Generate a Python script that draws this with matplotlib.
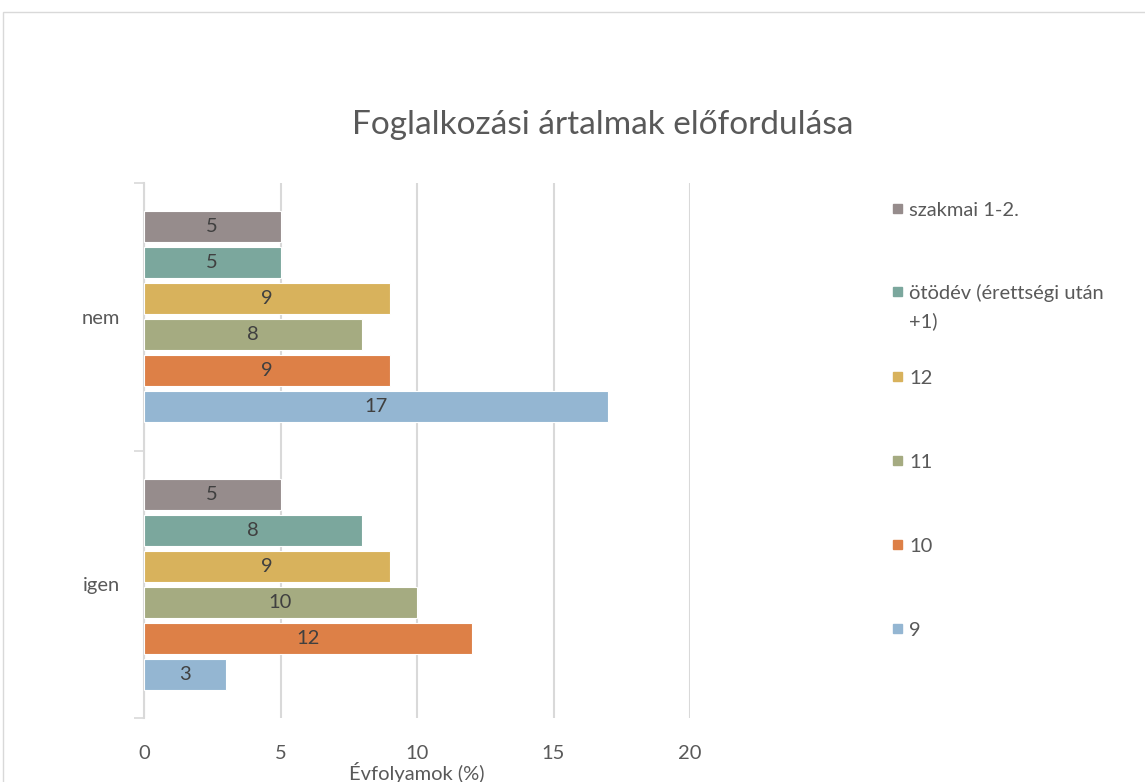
import numpy as np
import matplotlib.pyplot as plt
from matplotlib.patches import Rectangle

categories = ['igen', 'nem']
series = ['9', '10', '11', '12', 'ötödév (érettségi után\n+1)', 'szakmai 1-2.']
values_9 = [3, 17]
values_10 = [12, 9]
values_11 = [10, 8]
values_12 = [9, 9]
values_otodev = [8, 5]
values_szakmai = [5, 5]
colors = ['#94B6D2', '#DD8047', '#A5AB81', '#D8B25C', '#7BA79D', '#968C8C']

all_values = [values_9, values_10, values_11, values_12, values_otodev, values_szakmai]

plt.rcParams['font.family'] = ['Lato', 'DejaVu Sans']
text_col = '#595959'
grid_col = '#D9D9D9'

fig = plt.figure(figsize=(11.45, 7.82), dpi=100)
ax = fig.add_axes([144 / 1145, 64 / 782, 546 / 1145, 535 / 782])

ind = np.arange(len(categories))
pitch = 0.1346
height = 0.116
for i, vals in enumerate(all_values):
	bars = ax.barh(ind + (i - 2.5) * pitch, vals, height, color=colors[i],
	               edgecolor='white', linewidth=0.8, zorder=3)
	ax.bar_label(bars, label_type='center', color='#404040', fontsize=14.5)

ax.set_xlim(0, 20)
ax.set_ylim(-0.5, 1.5)
ax.set_xticks([0, 5, 10, 15, 20])
ax.tick_params(axis='x', length=0, pad=19.5, labelsize=14.5, labelcolor=text_col)
ax.xaxis.grid(True, color=grid_col, linewidth=1.5, zorder=0)
ax.set_xlabel('Évfolyamok (%)', fontsize=14.5, color=text_col)
ax.xaxis.set_label_coords(0.5, -(762 - 718) / 535)

ax.set_yticks(ind)
ax.set_yticklabels(categories)
ax.set_yticks([-0.5, 0.5, 1.5], minor=True)
ax.tick_params(axis='y', which='major', length=0, pad=17, labelsize=14.5, labelcolor=text_col)
ax.tick_params(axis='y', which='minor', length=7, width=1.2, color=grid_col)

for s in ['top', 'right', 'bottom']:
	ax.spines[s].set_visible(False)
ax.spines['left'].set_color(grid_col)
ax.spines['left'].set_linewidth(1.5)
ax.set_axisbelow(True)

fig.text(603 / 1145, 1 - 125 / 782, 'Foglalkozási ártalmak előfordulása',
         ha='center', va='center', fontsize=24, color=text_col)

# legend drawn by hand, top entry first like Excel
leg_y = [208.5, 292, 376, 460, 544, 628]
order = list(range(len(series)))[::-1]
line_gap = 27
for y, i in zip(leg_y, order):
	fig.add_artist(Rectangle((893 / 1145, 1 - (y + 4.5) / 782), 9 / 1145, 9 / 782,
	                         transform=fig.transFigure, color=colors[i]))
	# baseline alignment uses the last line, so push multi-line labels down
	extra = series[i].count('\n') * line_gap
	fig.text(909 / 1145, 1 - (y + 8 + extra) / 782, series[i], ha='left', va='baseline',
	         fontsize=14.5, color=text_col, linespacing=1.7)

# chart frame
fig.add_artist(Rectangle((3 / 1145, -0.05), 1.1, 1 - 12 / 782 + 0.05,
                         transform=fig.transFigure, fill=False,
                         edgecolor=grid_col, linewidth=1))

fig.savefig('out.png', dpi=100)
